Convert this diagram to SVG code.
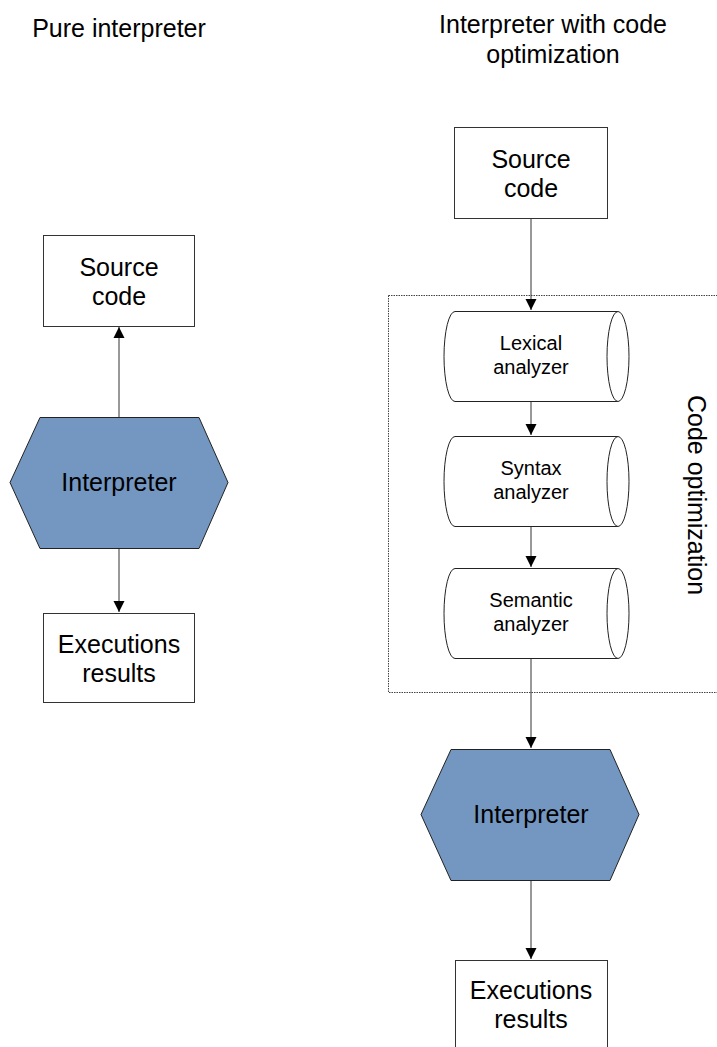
<svg xmlns="http://www.w3.org/2000/svg" width="717" height="1047" viewBox="0 0 717 1047">
<style>
text{font-family:"Liberation Sans",Arial,sans-serif;fill:#000;text-anchor:middle}
.t25{font-size:25px}
.t20{font-size:20px}
.box{fill:#fff;stroke:#333;stroke-width:1}
.hex{fill:#7397c1;stroke:#222;stroke-width:1}
.cyl{fill:#fff;stroke:#222;stroke-width:1}
.con{stroke:#333;stroke-width:1;fill:none}
</style>
<defs>
<marker id="arr" markerUnits="userSpaceOnUse" markerWidth="12" markerHeight="12" viewBox="0 0 12 12" refX="11" refY="6" orient="auto">
<path d="M0,0.5 L11,6 L0,11.5 Z" fill="#000"/>
</marker>
</defs>
<rect width="717" height="1047" fill="#fff"/>
<text class="t25" x="119" y="37">Pure interpreter</text>
<text class="t25" x="553" y="33">Interpreter with code</text>
<text class="t25" x="553" y="63">optimization</text>
<g id="group-code-optimization">
<rect x="388.5" y="295.5" width="340" height="397" fill="none" stroke="#444" stroke-width="1" stroke-dasharray="1.5,1"/>
<text class="t25" transform="translate(688,495) rotate(90)" x="0" y="0">Code optimization</text>
</g>
<g id="connectors">
<line class="con" x1="119" y1="417" x2="119" y2="327" marker-end="url(#arr)"/>
<line class="con" x1="119" y1="548" x2="119" y2="612" marker-end="url(#arr)"/>
<line class="con" x1="531" y1="218" x2="531" y2="310" marker-end="url(#arr)"/>
<line class="con" x1="531" y1="401" x2="531" y2="435" marker-end="url(#arr)"/>
<line class="con" x1="531" y1="527" x2="531" y2="567" marker-end="url(#arr)"/>
<line class="con" x1="531" y1="658" x2="531" y2="748" marker-end="url(#arr)"/>
<line class="con" x1="531" y1="880" x2="531" y2="959" marker-end="url(#arr)"/>
</g>
<g id="left-source">
<rect class="box" x="43.5" y="235.5" width="151" height="91"/>
<text class="t25" x="119" y="276">Source</text>
<text class="t25" x="119" y="305">code</text>
</g>
<g id="left-interpreter">
<polygon class="hex" points="10,482.5 40,417.5 199,417.5 228,482.5 199,548.5 40,548.5"/>
<text class="t25" x="119" y="491">Interpreter</text>
</g>
<g id="left-results">
<rect class="box" x="43.5" y="613.5" width="151" height="89"/>
<text class="t25" x="119" y="653">Executions</text>
<text class="t25" x="119" y="682">results</text>
</g>
<g id="right-source">
<rect class="box" x="454.5" y="127.5" width="153" height="91"/>
<text class="t25" x="531" y="168">Source</text>
<text class="t25" x="531" y="197">code</text>
</g>
<g id="lexical">
<path class="cyl" d="M455,311.5 L618,311.5 A11,45 0 0 1 618,401.5 L455,401.5 A11,45 0 0 1 455,311.5 Z"/>
<path class="cyl" d="M618,311.5 A11,45 0 0 0 618,401.5"/>
<text class="t20" x="531" y="350">Lexical</text>
<text class="t20" x="531" y="374">analyzer</text>
</g>
<g id="syntax">
<path class="cyl" d="M455,436.5 L618,436.5 A11,45 0 0 1 618,526.5 L455,526.5 A11,45 0 0 1 455,436.5 Z"/>
<path class="cyl" d="M618,436.5 A11,45 0 0 0 618,526.5"/>
<text class="t20" x="531" y="475">Syntax</text>
<text class="t20" x="531" y="499">analyzer</text>
</g>
<g id="semantic">
<path class="cyl" d="M455,568.5 L618,568.5 A11,45 0 0 1 618,658.5 L455,658.5 A11,45 0 0 1 455,568.5 Z"/>
<path class="cyl" d="M618,568.5 A11,45 0 0 0 618,658.5"/>
<text class="t20" x="531" y="607">Semantic</text>
<text class="t20" x="531" y="631">analyzer</text>
</g>
<g id="right-interpreter">
<polygon class="hex" points="421,814.5 451,749.5 610,749.5 639,814.5 610,880.5 451,880.5"/>
<text class="t25" x="531" y="823">Interpreter</text>
</g>
<g id="right-results">
<rect class="box" x="455.5" y="960.5" width="152" height="90"/>
<text class="t25" x="531" y="999">Executions</text>
<text class="t25" x="531" y="1028">results</text>
</g>
</svg>
